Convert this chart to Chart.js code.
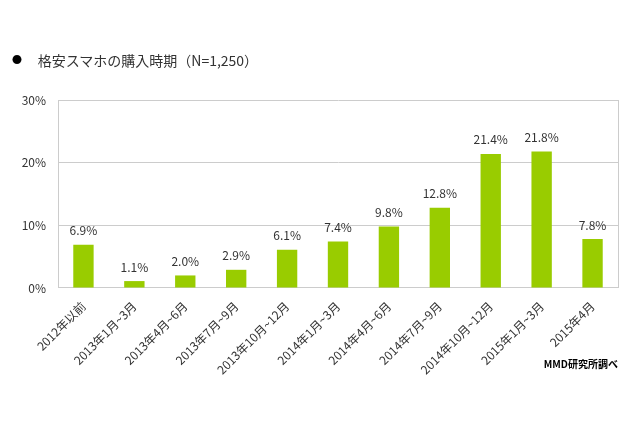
<!DOCTYPE html>
<html><head><meta charset="utf-8">
<script src="https://cdn.jsdelivr.net/npm/chart.js@4"></script>
<style>html,body{margin:0;padding:0;background:#fff}#w{position:relative;width:640px;height:426px}
#t{position:absolute;left:12px;top:50px;font:14px "Noto Sans CJK JP";color:#333}
#t b{font-size:10px;color:#000;vertical-align:2px}
#s{position:absolute;right:22px;top:356px;font:bold 10px "Noto Sans CJK JP";color:#000}</style>
</head><body><div id="w"><canvas id="c" width="640" height="426"></canvas>
<div id="t"><b>●</b>&nbsp;&nbsp;&nbsp;&nbsp;&nbsp;格安スマホの購入時期（N=1,250）</div><div id="s">MMD研究所調べ</div></div>
<script>
const categories=["2012年以前","2013年1月~3月","2013年4月~6月","2013年7月~9月","2013年10月~12月","2014年1月~3月","2014年4月~6月","2014年7月~9月","2014年10月~12月","2015年1月~3月","2015年4月"];
const values=[6.9,1.1,2.0,2.9,6.1,7.4,9.8,12.8,21.4,21.8,7.8];
const yTicks=[0,10,20,30];
const labelPlugin={id:'lbl',afterDatasetsDraw(ch){const c=ch.ctx;const m=ch.getDatasetMeta(0);c.save();c.font='12px "Noto Sans CJK JP"';c.fillStyle='#333';c.textAlign='center';c.textBaseline='bottom';
m.data.forEach((b,i)=>c.fillText(values[i].toFixed(1)+'%',b.x,b.y-8));
const a=ch.chartArea;c.strokeStyle='#ccc';c.lineWidth=1;c.beginPath();c.moveTo(a.right+0.5,a.top);c.lineTo(a.right+0.5,a.bottom);c.stroke();c.restore();}};
new Chart(document.getElementById('c'),{type:'bar',data:{labels:categories,datasets:[{data:values,backgroundColor:'#99cc00',barPercentage:0.4,categoryPercentage:1}]},
options:{responsive:false,animation:false,layout:{padding:{left:0,right:22,top:100,bottom:46}},plugins:{legend:{display:false},tooltip:{enabled:false}},
scales:{x:{grid:{display:false},border:{color:'#ccc'},ticks:{color:'#333',font:{size:12,family:'"Noto Sans CJK JP"'},maxRotation:45,minRotation:45}},
y:{min:0,max:30,afterFit(s){s.width=58},afterBuildTicks(s){s.ticks=yTicks.map(v=>({value:v}))},grid:{color:'#ccc',drawTicks:false},border:{color:'#ccc'},ticks:{padding:12,color:'#333',font:{size:12,family:'"Noto Sans CJK JP"'},callback:v=>v+'%'}}}},plugins:[labelPlugin]});
</script></body></html>
